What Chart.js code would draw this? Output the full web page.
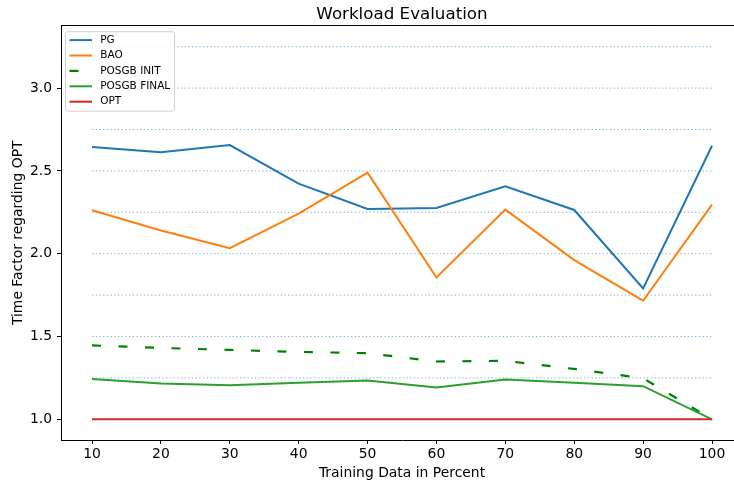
<!DOCTYPE html>
<html>
<head>
<meta charset="utf-8">
<title>Workload Evaluation</title>
<script src="https://cdn.jsdelivr.net/npm/chart.js@4.4.1/dist/chart.umd.min.js"></script>
<style>
  html, body { margin: 0; padding: 0; overflow: hidden; background: #fff; }
  #wrap { position: relative; width: 760px; height: 484px; }
</style>
</head>
<body>
<div id="wrap"><canvas id="chart" width="760" height="484"></canvas></div>
<script>
// values
const trainingPercent = [10, 20, 30, 40, 50, 60, 70, 80, 90, 100];
const pgValues = [2.644, 2.613, 2.656, 2.423, 2.270, 2.276, 2.407, 2.264, 1.790, 2.652];
const baoValues = [2.262, 2.140, 2.033, 2.242, 2.489, 1.856, 2.266, 1.961, 1.716, 2.296];
const posgbInitValues = [1.446, 1.431, 1.419, 1.407, 1.399, 1.349, 1.353, 1.304, 1.248, 1.000];
const posgbFinalValues = [1.244, 1.216, 1.206, 1.220, 1.234, 1.192, 1.240, 1.220, 1.200, 1.000];
const optValues = [1, 1, 1, 1, 1, 1, 1, 1, 1, 1];
const yTickValues = [1.0, 1.5, 2.0, 2.5, 3.0];
const gridLevels = [1.25, 1.5, 1.75, 2.0, 2.25, 2.5, 2.75, 3.0, 3.25];

const FONT = 'DejaVu Sans';
const X_MIN = 5.5, X_MAX = 104.5;
const Y_MIN = 0.875, Y_MAX = 3.378;

// pair x values with a series
function points(values) {
    return trainingPercent.map((x, i) => ({ x: x, y: values[i] }));
}

function series(label, values, color, extra) {
    return Object.assign({
        label: label,
        data: points(values),
        borderColor: color,
        backgroundColor: color,
        borderWidth: 2,
        pointRadius: 0,
        tension: 0,
        fill: false
    }, extra || {});
}

const datasets = [
    series('PG', pgValues, '#1f77b4', { order: 5 }),
    series('BAO', baoValues, '#ff7f0e', { order: 4 }),
    series('POSGB INIT', posgbInitValues, '#008000', { order: 3, borderDash: [9, 17.5], borderWidth: 2.2 }),
    series('POSGB FINAL', posgbFinalValues, '#2ca02c', { order: 2 }),
    series('OPT', optValues, '#d62728', { order: 1 })
];

// dotted horizontal guide lines, drawn as plain line datasets from 10 to 100
gridLevels.forEach(level => {
    datasets.push({
        label: '',
        data: [{ x: trainingPercent[0], y: level }, { x: trainingPercent[trainingPercent.length - 1], y: level }],
        borderColor: 'rgba(31,119,180,0.55)',
        borderWidth: 1,
        borderDash: [1.4, 2.3],
        pointRadius: 0,
        order: 100
    });
});

// legend box drawn inside the plot, upper left
const insideLegend = {
    id: 'insideLegend',
    afterDraw(chart) {
        const ctx = chart.ctx;
        const area = chart.chartArea;
        const items = chart.data.datasets.filter(d => d.label);
        const left = area.left + 4.5, top = area.top + 6.2;
        const w = 109, h = 79.5;
        ctx.save();
        ctx.beginPath();
        ctx.roundRect(left, top, w, h, 2);
        ctx.fillStyle = 'rgba(255,255,255,0.8)';
        ctx.fill();
        ctx.lineWidth = 1;
        ctx.strokeStyle = '#d0d0d0';
        ctx.stroke();
        ctx.font = '10.5px "' + FONT + '"';
        ctx.textBaseline = 'middle';
        ctx.textAlign = 'left';
        items.forEach((d, i) => {
            const y = top + 8.4 + i * 15.4;
            ctx.beginPath();
            ctx.setLineDash(d.borderDash || []);
            ctx.strokeStyle = d.borderColor;
            ctx.lineWidth = d.borderWidth;
            ctx.moveTo(left + 4, y);
            ctx.lineTo(left + 26.5, y);
            ctx.stroke();
            ctx.setLineDash([]);
            ctx.fillStyle = '#000';
            ctx.fillText(d.label, left + 34.7, y);
        });
        ctx.restore();
    }
};

new Chart(document.getElementById('chart').getContext('2d'), {
    type: 'line',
    data: { datasets: datasets },
    options: {
        responsive: false,
        animation: false,
        devicePixelRatio: 1,
        layout: { padding: { left: 0, right: 17, top: 0, bottom: 0 } },
        plugins: {
            legend: { display: false },
            tooltip: { enabled: false },
            title: { display: false }
        },
        scales: {
            x: {
                type: 'linear',
                position: 'bottom',
                min: X_MIN,
                max: X_MAX,
                afterBuildTicks: s => { s.ticks = trainingPercent.map(v => ({ value: v })); },
                afterFit: s => { s.height = 44; },
                ticks: {
                    autoSkip: false,
                    maxRotation: 0,
                    padding: 2,
                    color: '#000',
                    font: { family: FONT, size: 13.9 },
                    callback: v => String(v)
                },
                grid: { drawOnChartArea: false, drawTicks: true, tickLength: 4, color: '#000', lineWidth: 1 },
                border: { display: true, color: '#000', width: 1 },
                title: {
                    display: true,
                    text: 'Training Data in Percent',
                    color: '#000',
                    font: { family: FONT, size: 13.9 },
                    padding: { top: 0, bottom: 2.6 }
                }
            },
            x2: {
                type: 'linear',
                position: 'top',
                min: X_MIN,
                max: X_MAX,
                afterFit: s => { s.height = 25.5; },
                ticks: { display: false },
                grid: { drawOnChartArea: false, drawTicks: false },
                border: { display: true, color: '#000', width: 1 },
                title: {
                    display: true,
                    text: 'Workload Evaluation',
                    color: '#000',
                    font: { family: FONT, size: 16.7 },
                    padding: { top: 5, bottom: 0 }
                }
            },
            y: {
                type: 'linear',
                position: 'left',
                min: Y_MIN,
                max: Y_MAX,
                afterBuildTicks: s => { s.ticks = yTickValues.map(v => ({ value: v })); },
                afterFit: s => { s.width = 61; },
                ticks: {
                    padding: 5,
                    color: '#000',
                    font: { family: FONT, size: 13.9 },
                    callback: v => Number(v).toFixed(1)
                },
                grid: { drawOnChartArea: false, drawTicks: true, tickLength: 4, color: '#000', lineWidth: 1 },
                border: { display: true, color: '#000', width: 1 },
                title: {
                    display: true,
                    text: 'Time Factor regarding OPT',
                    color: '#000',
                    font: { family: FONT, size: 13.9 },
                    padding: { top: 9.6, bottom: 0 }
                }
            }
        }
    },
    plugins: [insideLegend]
});
</script>
</body>
</html>
